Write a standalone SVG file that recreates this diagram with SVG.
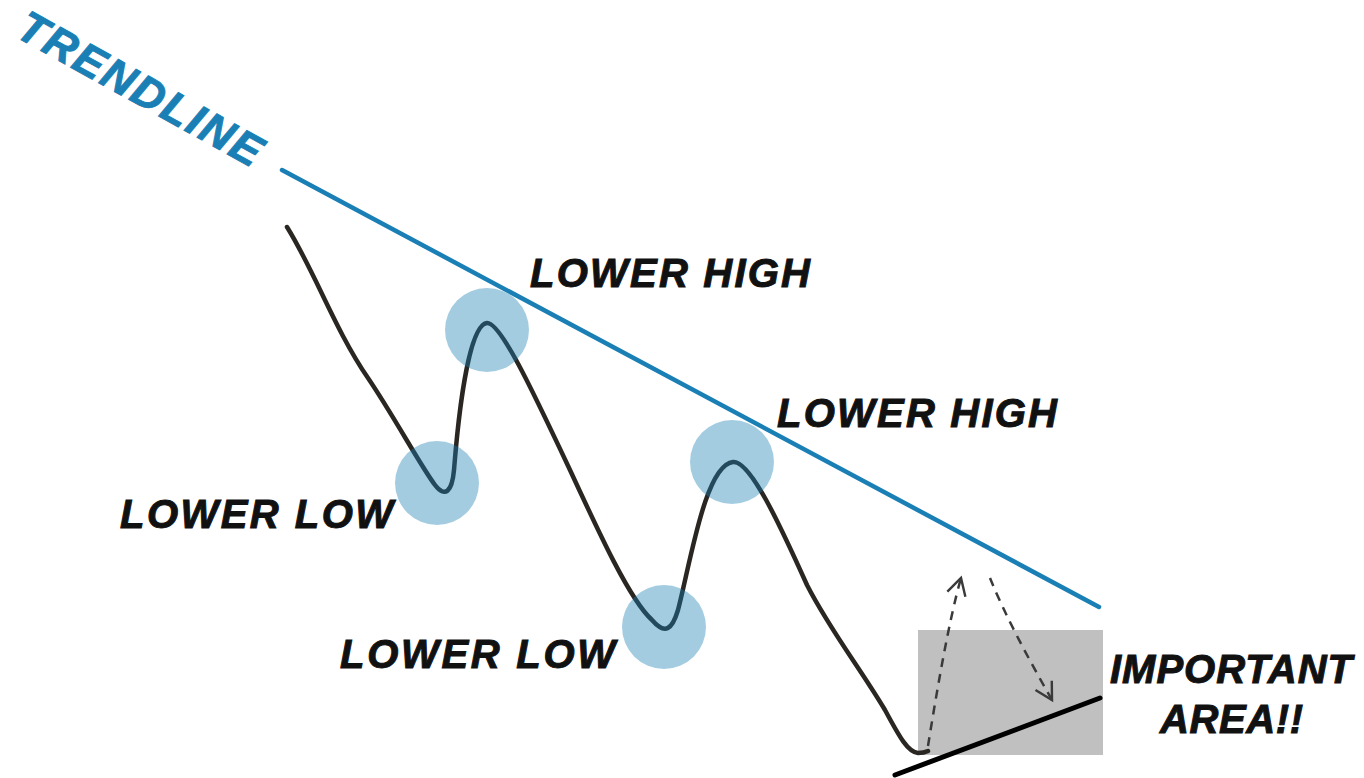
<svg xmlns="http://www.w3.org/2000/svg" width="1364" height="778" viewBox="0 0 1364 778">
  <style>
    .lbl { font-family: "Liberation Sans", Arial, sans-serif; font-weight: bold; font-style: italic; fill: #111; font-size: 40px; stroke: #111; stroke-width: 1; }
    .trend { stroke: #1a7fb5; stroke-width: 4.5; fill: none; stroke-linecap: round; }
    .price { stroke: #2a2622; stroke-width: 4.5; fill: none; stroke-linecap: round; stroke-linejoin: round; }
    .pivot { fill: #1a7fb5; fill-opacity: 0.4; }
    .dash { stroke: #3a3a3a; stroke-width: 2.5; fill: none; stroke-dasharray: 9 7; }
  </style>
  <defs>
    <marker id="chev" viewBox="0 0 12 12" refX="10" refY="6" markerWidth="9" markerHeight="9" orient="auto" markerUnits="strokeWidth">
      <path d="M1,1 L10,6 L1,11" fill="none" stroke="#3a3a3a" stroke-width="1.3" stroke-dasharray="none"/>
    </marker>
  </defs>
  <rect width="1364" height="778" fill="#ffffff"/>

  <g id="important-area">
    <rect x="918" y="630" width="185" height="125" fill="#c0c0c0"/>
  </g>

  <g id="connectors">
    <line class="trend" x1="282" y1="170" x2="1099" y2="607"/>
    <line x1="895" y1="775" x2="1100" y2="698" stroke="#000" stroke-width="5" stroke-linecap="round"/>
    <path class="dash" d="M928,746 C937,690 949,620 961,578" marker-end="url(#chev)"/>
    <path class="dash" d="M990,578 C1005,615 1028,658 1052,700" marker-end="url(#chev)"/>
    <path class="price" d="M287,227 C315,272 335,330 368,378 C395,418 420,465 435,485 C445,498 452,492 454,470 C458,420 468,325 487,323 C500,322 530,385 570,470 C600,535 630,600 652,620 C665,635 672,630 678,610 C690,565 705,465 733,462 C750,460 780,525 807,585 C830,630 860,668 885,710 C900,738 908,752 918,753 Q924,753 928,751"/>
  </g>

  <g id="pivot-high-1"><circle class="pivot" cx="487" cy="330" r="42"/></g>
  <g id="pivot-low-1"><circle class="pivot" cx="437" cy="483" r="42"/></g>
  <g id="pivot-high-2"><circle class="pivot" cx="732" cy="462" r="42"/></g>
  <g id="pivot-low-2"><circle class="pivot" cx="664" cy="627" r="42"/></g>

  <g id="label-trendline">
    <text class="lbl" x="133" y="102" text-anchor="middle" textLength="272" lengthAdjust="spacing" transform="rotate(29 133 102)" style="fill:#1a7fb5;stroke:#1a7fb5;font-size:44px">TRENDLINE</text>
  </g>
  <g id="label-lower-high-1"><text class="lbl" x="530" y="287" textLength="280" lengthAdjust="spacing">LOWER HIGH</text></g>
  <g id="label-lower-high-2"><text class="lbl" x="777" y="427" textLength="280" lengthAdjust="spacing">LOWER HIGH</text></g>
  <g id="label-lower-low-1"><text class="lbl" x="120" y="528" textLength="273" lengthAdjust="spacing">LOWER LOW</text></g>
  <g id="label-lower-low-2"><text class="lbl" x="340" y="668" textLength="275" lengthAdjust="spacing">LOWER LOW</text></g>
  <g id="label-important">
    <text class="lbl" x="1110" y="683" textLength="242" lengthAdjust="spacing">IMPORTANT</text>
    <text class="lbl" x="1160" y="733" textLength="143" lengthAdjust="spacing">AREA!!</text>
  </g>
</svg>
